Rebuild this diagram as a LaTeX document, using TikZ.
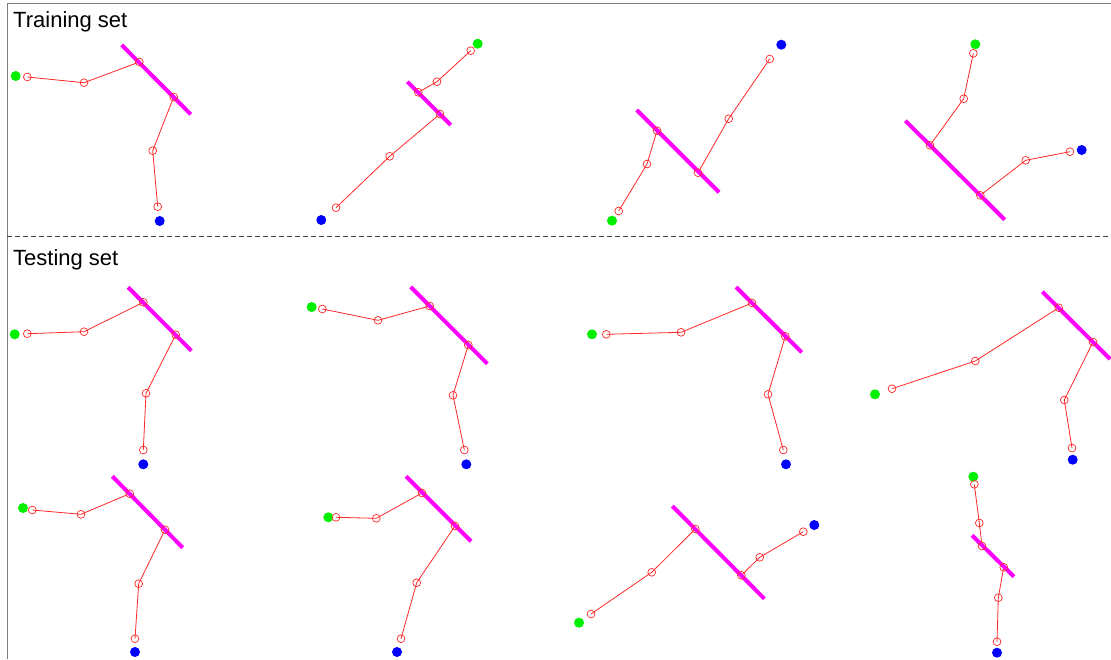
\documentclass[tikz,border=0pt]{standalone}
\usepackage{fontspec}
\setmainfont{Liberation Sans}
\definecolor{barmag}{RGB}{255,0,255}
\definecolor{dotgreen}{RGB}{0,240,0}
\definecolor{dotblue}{RGB}{0,0,255}
\definecolor{bonered}{RGB}{255,40,40}
\pgfdeclarelayer{paper}
\pgfdeclarelayer{bones}
\pgfdeclarelayer{bars}
\pgfsetlayers{paper,bones,bars,main}
\tikzset{
 joint/.style={circle,draw=bonered,line width=0.7pt,minimum size=7.8pt,inner sep=0pt},
 gdot/.style={circle,fill=dotgreen,minimum size=10pt,inner sep=0pt},
 bdot/.style={circle,fill=dotblue,minimum size=10pt,inner sep=0pt},
 bone/.style={bonered,line width=0.8pt},
 magline/.style={barmag,line width=4pt},
 frameline/.style={gray,line width=1pt},
 sepline/.style={black!75,line width=0.8pt,dash pattern=on 5pt off 3pt},
 lbl/.style={anchor=base west,font=\fontsize{22}{26}\selectfont,inner sep=0pt}
}
\newcommand\skel[9]{%
 \node[gdot] (#1g) at (#2) {};
 \node[joint] (#1j1) at (#3) {};
 \node[joint] (#1j2) at (#4) {};
 \node[joint] (#1j3) at (#5) {};
 \node[joint] (#1j4) at (#6) {};
 \node[joint] (#1j5) at (#7) {};
 \node[joint] (#1j6) at (#8) {};
 \node[bdot] (#1b) at (#9) {};
 \begin{pgfonlayer}{bones}
 \draw[bone] (#1j1.center) -- (#1j2.center) -- (#1j3.center) -- (#1j4.center) -- (#1j5.center) -- (#1j6.center);
 \end{pgfonlayer}}
\newcommand\magbar[3]{%
 \coordinate (#1ma) at (#2);
 \coordinate (#1mb) at (#3);
 \begin{pgfonlayer}{bars}
 \draw[magline] (#1ma) -- (#1mb);
 \end{pgfonlayer}}
\begin{document}
\begin{tikzpicture}[x=1pt,y=-1pt]
\useasboundingbox (0,0) rectangle (1111,659);
\begin{pgfonlayer}{paper}
\fill[white] (0,0) rectangle (1111,659);
\end{pgfonlayer}
% frame
\coordinate (fBL) at (7,659);
\coordinate (fTL) at (7,3);
\coordinate (fTR) at (1111,3);
\draw[frameline] (fBL) -- (fTL) -- (fTR);
\coordinate (sL) at (7,236);
\coordinate (sR) at (1111,236);
\draw[sepline] (sL) -- (sR);
\node[lbl] (train) at (13,27) {Training set};
\node[lbl] (test) at (13,265) {Testing set};
% training set
\skel{a}{15.7,76}{27.3,77}{84,82.7}{139.3,62}{173.7,97}{152.7,150.7}{157.7,206.7}{159.7,221}
\magbar{a}{121.7,45}{190.7,114.3}
\skel{b}{477.7,43.7}{470.7,50.7}{437,81.7}{418.3,92.3}{440,114}{389.7,156.3}{336,207.7}{321.3,220}
\magbar{b}{407.3,81.7}{450.7,125}
\skel{c}{612,220.7}{618.7,211}{647,164}{657,130.7}{698,172.7}{728.7,118.7}{769.7,59}{781.3,44.7}
\magbar{c}{636.7,110}{719,192.3}
\skel{d}{975.3,44.3}{973.3,53.3}{963.7,98.7}{930,145.3}{980.3,195.3}{1025.7,160.3}{1070,151.7}{1081.7,150}
\magbar{d}{905.3,120.7}{1004.7,219.7}
% testing set, row 1
\skel{e}{14.7,334.3}{27.3,333.7}{84,331.7}{143.3,302.3}{175.7,334.7}{146,393.3}{143.3,450}{143.3,464.3}
\magbar{e}{128,287.3}{191.3,350.7}
\skel{f}{311.7,307}{322.3,309}{378,320.3}{429.7,306}{468.3,345}{453,395.3}{464.3,450}{466.3,464.3}
\magbar{f}{410.7,287}{487.3,363.7}
\skel{g}{592,334.3}{606.3,334.3}{681,332.3}{752,303}{785.3,336.3}{768,394.3}{783.3,450}{786,464.3}
\magbar{g}{736,287}{801.7,352.3}
\skel{h}{875,394.3}{892,388.7}{975.3,361}{1058.7,307.7}{1093,342}{1064.3,400}{1072,448}{1072.7,459.7}
\magbar{h}{1042.3,291.7}{1110,359}
% testing set, row 2
\skel{i}{23,508}{32.3,510}{81,514.3}{129.7,493.7}{165,529.7}{138.7,583.7}{135,638.7}{135,652}
\magbar{i}{112.3,476.3}{182.7,547.7}
\skel{k}{328.3,517.3}{336,517.3}{376.3,518.3}{422,493}{455,526}{416.7,582.7}{401,638.7}{397,652}
\magbar{k}{406,476.3}{471,541.3}
\skel{l}{579,622.7}{591,614}{651.7,572.3}{695.3,529}{741.3,575.3}{759.7,557.3}{803.3,531.7}{814.3,525}
\magbar{l}{672.3,506}{764.3,598.7}
\skel{m}{973.3,476.7}{974.3,484.3}{979.3,523}{982,546}{1003.7,567.3}{998.3,597.7}{997,641.7}{997,652.7}
\magbar{m}{972,535.3}{1014,576.7}
\end{tikzpicture}
\end{document}
